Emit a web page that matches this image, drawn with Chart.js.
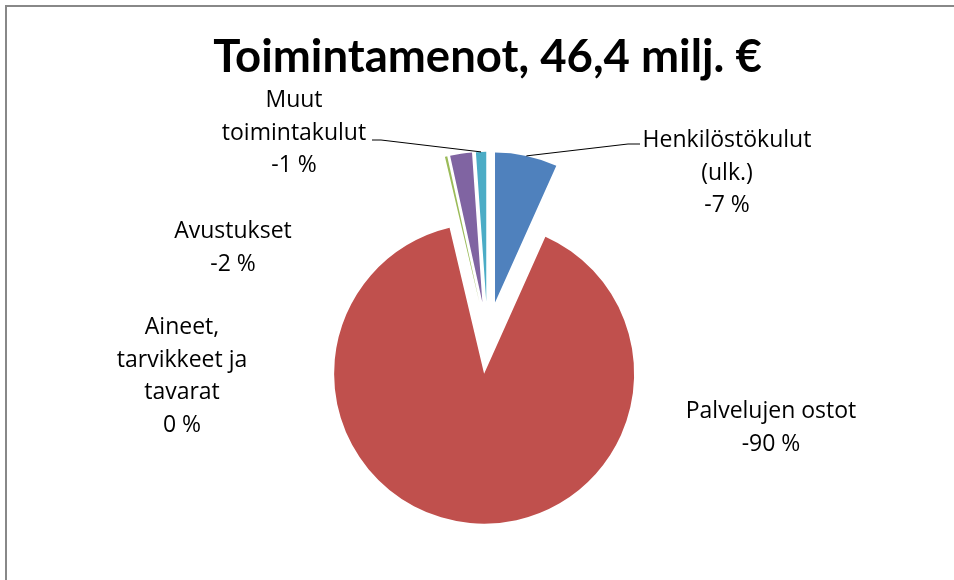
<!DOCTYPE html>
<html>
<head>
<meta charset="utf-8">
<script src="https://cdn.jsdelivr.net/npm/chart.js@4.4.1/dist/chart.umd.min.js"></script>
<style>
  html, body { margin: 0; padding: 0; background: #fff; }
  #frame {
    position: absolute; left: 5px; top: 5px; width: 960px; height: 600px;
    border-top: 2px solid #888; border-left: 2px solid #888;
  }
  #wrap { position: absolute; left: 0; top: 0; width: 954px; height: 580px; }
</style>
</head>
<body>
<div id="frame"></div>
<div id="wrap"><canvas id="costChart"></canvas></div>
<script>
// Data
const chartTitle = 'Toimintamenot, 46,4 milj. €';
const categories = [
  ['Henkilöstökulut', '(ulk.)'],
  ['Palvelujen ostot'],
  ['Aineet,', 'tarvikkeet ja', 'tavarat'],
  ['Avustukset'],
  ['Muut', 'toimintakulut']
];
const shareValues = [-6.7, -89.6, -0.25, -2.35, -1.1];   // % of total
const sliceColors = ['#4F81BD', '#C0504D', '#9BBB59', '#8064A2', '#4BACC6'];

// Layout of the data labels (first baseline) and leader lines
const labelPos = [
  { x: 727, y: 147 },
  { x: 771, y: 418 },
  { x: 182, y: 334 },
  { x: 233, y: 238 },
  { x: 294, y: 107 }
];
const leaders = {
  0: [[628, 144], [640, 144]],
  4: [[381, 140], [372, 140]]
};
const EXPLODE = 36;
const LINE_GAP = 32.5;
const labelFont = '23px "Open Sans"';

// draw exploded slices (each slice moved out along its middle angle)
const explodePlugin = {
  id: 'explode',
  beforeDatasetDraw(chart, args) {
    const ctx = chart.ctx;
    args.meta.data.forEach(arc => {
      const mid = (arc.startAngle + arc.endAngle) / 2;
      ctx.save();
      ctx.translate(Math.cos(mid) * EXPLODE, Math.sin(mid) * EXPLODE);
      arc.draw(ctx);
      ctx.restore();
    });
    return false;
  }
};

// labels with category + rounded percentage
const labelPlugin = {
  id: 'sliceLabels',
  afterDatasetsDraw(chart) {
    const ctx = chart.ctx;
    const arcs = chart.getDatasetMeta(0).data;
    ctx.save();
    ctx.font = labelFont;
    ctx.fillStyle = '#000';
    ctx.textAlign = 'center';
    ctx.textBaseline = 'alphabetic';
    categories.forEach((lines, i) => {
      const pct = Math.round(shareValues[i]);
      const all = lines.concat([(pct === 0 ? 0 : pct) + ' %']);
      all.forEach((t, k) => {
        ctx.fillText(t, labelPos[i].x, labelPos[i].y + k * LINE_GAP);
      });
      if (leaders[i]) {
        const arc = arcs[i];
        const mid = (arc.startAngle + arc.endAngle) / 2;
        const r = arc.outerRadius + EXPLODE;
        ctx.beginPath();
        ctx.strokeStyle = '#000';
        ctx.lineWidth = 1;
        ctx.moveTo(arc.x + Math.cos(mid) * r, arc.y + Math.sin(mid) * r);
        leaders[i].forEach(p => ctx.lineTo(p[0], p[1]));
        ctx.stroke();
      }
    });
    ctx.restore();
  }
};

new Chart(document.getElementById('costChart'), {
  type: 'pie',
  data: {
    labels: categories.map(c => c.join(' ')),
    datasets: [{
      data: shareValues,
      backgroundColor: sliceColors,
      borderWidth: 0,
      radius: 150
    }]
  },
  options: {
    responsive: true,
    maintainAspectRatio: false,
    animation: false,
    layout: {
      padding: { left: 187.5, right: 166.5, top: 0, bottom: 0 }
    },
    plugins: {
      legend: { display: false },
      tooltip: { enabled: false },
      title: {
        display: true,
        text: chartTitle,
        fullSize: false,
        color: '#000',
        font: { family: 'Lato', size: 45.5, weight: 'bold', lineHeight: 1.2 },
        padding: { top: 30, bottom: 11 }
      }
    }
  },
  plugins: [explodePlugin, labelPlugin]
});
</script>
</body>
</html>
